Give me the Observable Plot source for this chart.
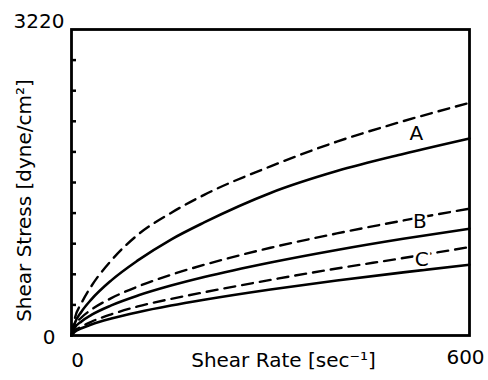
<!DOCTYPE html>
<html>
<head>
<meta charset="utf-8">
<script src="https://cdn.jsdelivr.net/npm/d3@7"></script>
<script src="https://cdn.jsdelivr.net/npm/@observablehq/plot@0.6"></script>
<style>
  html, body { margin: 0; padding: 0; background: #fff; }
  svg { display: block; }
</style>
</head>
<body>
<div id="chart"></div>
<script>
// Shear rate samples (sec^-1)
const rates = [0, 5, 15, 30, 60, 100, 150, 200, 300, 400, 500, 600];
// Shear stress (dyne/cm^2)
const aDashed = [0, 180, 340, 520, 790, 1060, 1290, 1480, 1780, 2040, 2255, 2448];
const aSolid  = [0, 130, 250, 380, 580, 790, 1010, 1190, 1500, 1730, 1910, 2073];
const bDashed = [0, 105, 189, 272, 393, 515, 639, 744, 923, 1074, 1210, 1335];
const bSolid  = [0, 81, 148, 217, 317, 420, 525, 615, 768, 900, 1018, 1124];
const cDashed = [0, 48, 94, 145, 223, 306, 385, 455, 585, 705, 815, 931];
const cSolid  = [0, 38, 76, 116, 178, 245, 315, 376, 484, 579, 664, 745];

const curveLabels = ["A", "B", "C"];
const curveLabelX = [520, 525, 528];
const curveLabelY = [2129, 1202, 801];

const yTickMarks = [322, 644, 966, 1288, 1610, 1932, 2254, 2576, 2898];
const yMin = 0, yMax = 3220;
const xMin = 0, xMax = 600;

const series = [
  {key: "A solid", dashed: false, values: aSolid},
  {key: "A dashed", dashed: true, values: aDashed},
  {key: "B solid", dashed: false, values: bSolid},
  {key: "B dashed", dashed: true, values: bDashed},
  {key: "C solid", dashed: false, values: cSolid},
  {key: "C dashed", dashed: true, values: cDashed}
];
const rows = series.flatMap(s => rates.map((r, i) => ({key: s.key, dashed: s.dashed, x: r, y: s.values[i]})));
const solidRows = rows.filter(d => !d.dashed);
const dashedRows = rows.filter(d => d.dashed);
const labelRows = curveLabels.map((t, i) => ({t, x: curveLabelX[i], y: curveLabelY[i]}));

const font = "DejaVu Sans";
const chart = Plot.plot({
  width: 488,
  height: 380,
  marginLeft: 71,
  marginRight: 19,
  marginTop: 29,
  marginBottom: 45,
  style: {fontFamily: font, fontSize: "20px", background: "white", color: "black"},
  x: {domain: [xMin, xMax], axis: null},
  y: {domain: [yMin, yMax], axis: null},
  marks: [
    Plot.line(solidRows, {x: "x", y: "y", z: "key", curve: "monotone-x", stroke: "black", strokeWidth: 2.6}),
    Plot.line(dashedRows, {x: "x", y: "y", z: "key", curve: "monotone-x", stroke: "black", strokeWidth: 2.4, strokeDasharray: "11,7"}),
    Plot.text(labelRows, {x: "x", y: "y", text: "t", fontSize: 20, fill: "black", stroke: "white", strokeWidth: 5, paintOrder: "stroke"}),
    Plot.axisY({ticks: yTickMarks, tickSize: -5, tickFormat: () => "", label: null, strokeWidth: 2.5}),
    Plot.frame({stroke: "black", strokeWidth: 2.8}),
    // y tick labels
    Plot.text([yMin], {y: d => d, frameAnchor: "left", textAnchor: "end", dx: -16, dy: 2, text: d => String(d), fontSize: 20}),
    Plot.text([yMax], {y: d => d, frameAnchor: "left", textAnchor: "end", dx: -7, dy: -8, text: d => String(d), fontSize: 20}),
    // x tick labels
    Plot.text([xMin], {x: d => d, frameAnchor: "bottom", dx: 6, dy: 31, text: d => String(d), fontSize: 20}),
    Plot.text([xMax], {x: d => d, frameAnchor: "bottom", dx: -4, dy: 28, text: d => String(d), fontSize: 20}),
    // axis titles
    Plot.text(["Shear Rate [sec⁻¹]"], {frameAnchor: "bottom", textAnchor: "middle", dx: 13, dy: 31, text: d => d, fontSize: 20}),
    Plot.text(["Shear Stress [dyne/cm²]"], {frameAnchor: "left", textAnchor: "middle", rotate: -90, dx: -47, dy: 18, text: d => d, fontSize: 20})
  ]
});
document.getElementById("chart").appendChild(chart);
</script>
</body>
</html>
